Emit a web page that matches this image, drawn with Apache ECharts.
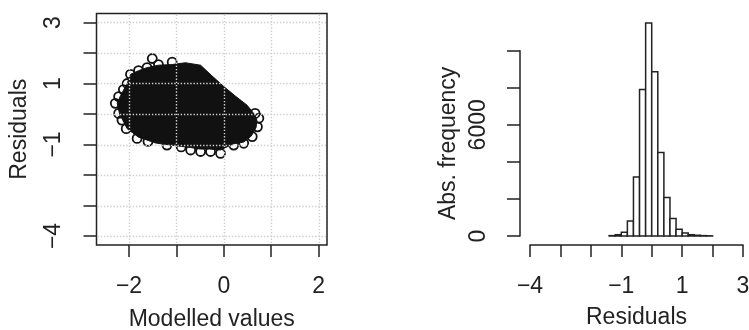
<!DOCTYPE html>
<html>
<head>
<meta charset="utf-8">
<script src="https://cdn.jsdelivr.net/npm/echarts@6/dist/echarts.min.js"></script>
<style>
html,body{margin:0;padding:0;background:#fff;}
#chart{width:749px;height:330px;}
</style>
</head>
<body>
<div id="chart"></div>
<script>
// left panel: residuals vs modelled values (dense cloud = filled body + rim circles)
var blobX = [-2.25,-2.18,-2.04,-1.97,-1.8,-1.62,-1.38,-1.1,-0.81,-0.49,-0.25,0.0,0.25,0.49,0.64,0.7,0.68,0.58,0.42,0.2,-0.07,-0.3,-0.5,-0.7,-1.07,-1.44,-1.8,-2.04,-2.2];
var blobY = [0.35,0.6,1.0,1.3,1.42,1.52,1.6,1.62,1.68,1.6,1.25,0.9,0.58,0.29,0.0,-0.2,-0.45,-0.72,-0.92,-0.98,-1.18,-1.15,-1.15,-1.1,-1.03,-0.95,-0.76,-0.48,0.0];
var ringX = [-1.51,-1.09,-1.38,-1.62,-1.8,-1.97,-2.04,-2.12,-2.22,-2.29,-2.22,-2.15,-2.06,-1.83,-1.6,-1.2,-0.9,-0.7,-0.49,-0.28,-0.07,0.21,0.42,0.6,0.71,0.74,0.66];
var ringY = [1.82,1.7,1.62,1.52,1.42,1.3,1.0,0.8,0.57,0.35,0.02,-0.2,-0.48,-0.8,-0.9,-1.02,-1.08,-1.18,-1.23,-1.23,-1.29,-1.02,-0.96,-0.74,-0.42,-0.14,0.02];
var gridX = [-2,-1,0,1,2];
var gridY = [3,2,1,0,-1,-2,-3,-4];
var scatterXTicks = [-2,-1,0,1,2];
var scatterXLabels = [-2,0,2];
var scatterYTicks = [3,2,1,0,-1,-2,-3,-4];
var scatterYLabels = [3,1,-1,-4];

// right panel: histogram of residuals
var binEdges = [-1.4,-1.2,-1.0,-0.8,-0.6,-0.4,-0.2,0,0.2,0.4,0.6,0.8,1.0,1.2,1.4,1.6,1.8,2.0];
var binCount = [20,70,200,810,3190,7900,11490,8870,4500,2080,950,360,160,70,40,20,10];
var histXLabels = [-4,-1,1,3];
var histYLabels = [0,6000];

var chart = echarts.init(document.getElementById('chart'));
var ink = '#222';
var font = '"Liberation Sans", Arial, Helvetica, sans-serif';

function minus(v){ return String(v).replace('-', '\u2212'); }

var ringData = ringX.map(function(x, i){ return [x, ringY[i]]; });
var histData = binCount.map(function(c, i){ return [binEdges[i], binEdges[i+1], c]; });
var gridData = gridX.map(function(v){ return [0, v]; })
	.concat(gridY.map(function(v){ return [1, v]; }));

var option = {
	backgroundColor: '#fff',
	animation: false,
	textStyle: {fontFamily: font, color: ink},
	grid: [
		{left: 96.5, top: 13.5, width: 230.5, height: 231.5, show: true, borderColor: ink, borderWidth: 1.5,
			containLabel: false, outerBoundsMode: 'none'},
		{left: 530, right: 6, top: 50.7, bottom: 94, containLabel: false, outerBoundsMode: 'none'}
	],
	xAxis: [
		{
			gridIndex: 0, type: 'value', min: -2.687, max: 2.178,
			name: 'Modelled values', nameLocation: 'middle', nameGap: 63,
			nameTextStyle: {fontSize: 23, color: ink, fontFamily: font},
			axisLine: {show: false, onZero: false},
			axisTick: {show: true, length: 12, customValues: scatterXTicks, lineStyle: {color: ink, width: 1.5}},
			axisLabel: {customValues: scatterXLabels, margin: 30, fontSize: 23, color: ink, fontFamily: font, formatter: minus},
			splitLine: {show: false}
		},
		{
			gridIndex: 1, type: 'value', min: -4, max: 3, interval: 1, offset: 9,
			name: 'Residuals', nameLocation: 'middle', nameGap: 61,
			nameTextStyle: {fontSize: 23, color: ink, fontFamily: font},
			axisLine: {show: true, onZero: false, lineStyle: {color: ink, width: 1.5}},
			axisTick: {show: true, length: 12, lineStyle: {color: ink, width: 1.5}},
			axisLabel: {margin: 30, fontSize: 23, color: ink, fontFamily: font, showMinLabel: true, showMaxLabel: true,
				hideOverlap: false,
				formatter: function(v){ return histXLabels.indexOf(v) >= 0 ? minus(v) : ''; }},
			splitLine: {show: false}
		}
	],
	yAxis: [
		{
			gridIndex: 0, type: 'value', min: -4.295, max: 3.295,
			name: 'Residuals', nameLocation: 'middle', nameGap: 65, nameRotate: 90,
			nameTextStyle: {fontSize: 23, color: ink, fontFamily: font},
			axisLine: {show: false, onZero: false},
			axisTick: {show: true, length: 13, customValues: scatterYTicks, lineStyle: {color: ink, width: 1.5}},
			axisLabel: {customValues: scatterYLabels, rotate: 90, margin: 31, fontSize: 23, color: ink, fontFamily: font, formatter: minus},
			splitLine: {show: false}
		},
		{
			gridIndex: 1, type: 'value', min: 0, max: 10000, interval: 2000, offset: 10,
			name: 'Abs. frequency', nameLocation: 'middle', nameGap: 60, nameRotate: 90,
			nameTextStyle: {fontSize: 23, color: ink, fontFamily: font},
			axisLine: {show: true, onZero: false, lineStyle: {color: ink, width: 1.5}},
			axisTick: {show: true, length: 13, lineStyle: {color: ink, width: 1.5}},
			axisLabel: {rotate: 90, margin: 30, fontSize: 23, color: ink, fontFamily: font,
				formatter: function(v){ return histYLabels.indexOf(v) >= 0 ? String(v) : ''; }},
			splitLine: {show: false}
		}
	],
	series: [
		{
			// dense body of the point cloud
			type: 'custom', xAxisIndex: 0, yAxisIndex: 0, z: 1,
			data: [[blobX[0], blobY[0]]],
			renderItem: function(params, api){
				var pts = blobX.map(function(x, i){ return api.coord([x, blobY[i]]); });
				return {type: 'polygon', shape: {points: pts}, style: {fill: '#111', stroke: '#111', lineWidth: 1}};
			},
			silent: true
		},
		{
			type: 'scatter', xAxisIndex: 0, yAxisIndex: 0, z: 2,
			data: ringData, symbol: 'circle', symbolSize: 9,
			itemStyle: {color: 'rgba(0,0,0,0)', borderColor: '#111', borderWidth: 1.8, opacity: 1},
			silent: true
		},
		{
			// dotted reference grid drawn over the points
			type: 'custom', xAxisIndex: 0, yAxisIndex: 0, z: 10, zlevel: 1,
			data: gridData,
			renderItem: function(params, api){
				var cs = params.coordSys;
				var vertical = api.value(0) === 0;
				var v = api.value(1);
				var shape;
				if (vertical) {
					var px = Math.round(api.coord([v, 0])[0]) + 0.5;
					shape = {x1: px, y1: cs.y + 1, x2: px, y2: cs.y + cs.height - 1};
				} else {
					var py = Math.round(api.coord([0, v])[1]) + 0.5;
					shape = {x1: cs.x + 1, y1: py, x2: cs.x + cs.width - 1, y2: py};
				}
				return {type: 'line', z2: 100, shape: shape,
					style: {stroke: '#cfcfcf', lineWidth: 1.4, lineDash: [1.4, 1.8]}};
			},
			silent: true
		},
		{
			type: 'custom', xAxisIndex: 1, yAxisIndex: 1,
			data: histData,
			encode: {x: [0, 1], y: 2},
			renderItem: function(params, api){
				var p0 = api.coord([api.value(0), api.value(2)]);
				var p1 = api.coord([api.value(1), 0]);
				return {type: 'rect', shape: {x: p0[0], y: p0[1], width: p1[0] - p0[0], height: p1[1] - p0[1]},
					style: {fill: '#fff', stroke: ink, lineWidth: 1.5}};
			},
			silent: true
		}
	]
};

chart.setOption(option);
</script>
</body>
</html>
